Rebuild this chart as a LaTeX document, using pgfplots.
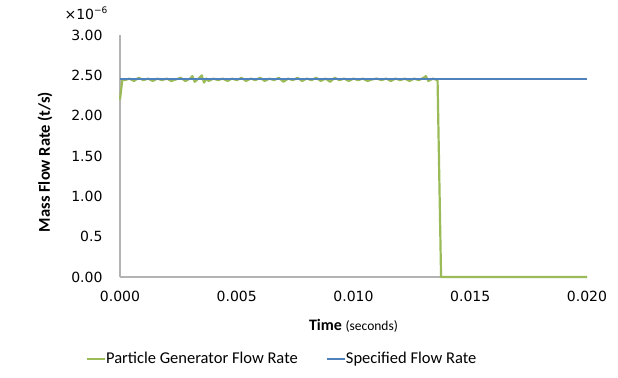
\documentclass[border=0pt]{standalone}
\usepackage{pgfplots}
\pgfplotsset{compat=1.18}
\usepackage{fontspec}
\setmainfont{Carlito}
\newfontfamily\tickfont{DejaVu Sans}
\definecolor{exgreen}{HTML}{9BBB59}
\definecolor{exblue}{HTML}{4F81BD}
\definecolor{axgray}{HTML}{B3B3B3}
\begin{document}
\begin{tikzpicture}
\useasboundingbox (0,0) rectangle (618bp,378bp);
\begin{axis}[
  at={(120bp,101bp)}, anchor=south west,
  scale only axis, width=467bp, height=242bp,
  xmin=0, xmax=0.02, ymin=0, ymax=3,
  scaled x ticks=false, scaled y ticks=false,
  axis lines=left, axis line style={-, draw=axgray, line width=1.2bp},
  major tick length=0pt,
  xtick={0,0.005,0.01,0.015,0.02},
  xticklabels={0.000,0.005,0.010,0.015,0.020},
  ytick={0,0.5,1,1.5,2,2.5,3},
  yticklabels={0.00,0.5,1.00,1.50,2.00,2.50,3.00},
  tick label style={font=\tickfont\fontsize{14bp}{16bp}\selectfont, text=black},
  xticklabel style={yshift=-11bp},
  yticklabel style={xshift=-14bp},
  xlabel={\textbf{Time} {\fontsize{13.5bp}{15bp}\selectfont (seconds)}},
  xlabel style={at={(rel axis cs:0.5,-0.2025)}, anchor=center, font=\fontsize{16bp}{18bp}\selectfont},
  ylabel={\textbf{Mass Flow Rate (t/s)}},
  ylabel style={at={(rel axis cs:-0.1606,0.475)}, anchor=center, rotate=0, font=\fontsize{16.5bp}{18bp}\selectfont},
  clip=false,
  legend columns=2,
  legend style={at={(rel axis cs:0.345,-0.338)}, anchor=center, draw=none, fill=none,
    font=\fontsize{16.5bp}{18bp}\selectfont, inner sep=0pt,
    /tikz/every even column/.append style={column sep=28bp},
    nodes={inner xsep=0pt}},
  legend image code/.code={\draw[#1, line width=2.2bp] (0,0) -- (18bp,0);},
]
\addplot[exgreen, line width=2.2bp, line join=round] coordinates {
(0.0000,2.20) (0.0001,2.45) (0.0002,2.44) (0.0004,2.46) (0.0006,2.43) (0.0008,2.47)
(0.0010,2.44) (0.0012,2.46) (0.0014,2.43) (0.0016,2.46) (0.0018,2.44) (0.0020,2.46)
(0.0022,2.43) (0.0024,2.45) (0.0026,2.47) (0.0028,2.43) (0.0030,2.46) (0.0031,2.49)
(0.0032,2.42) (0.0034,2.47) (0.0035,2.50) (0.0036,2.41) (0.0037,2.46) (0.0038,2.43)
(0.0040,2.46) (0.0042,2.44) (0.0044,2.46) (0.0046,2.43) (0.0048,2.46) (0.0050,2.44)
(0.0052,2.47) (0.0054,2.43) (0.0056,2.46) (0.0058,2.44) (0.0060,2.47) (0.0062,2.43)
(0.0064,2.46) (0.0066,2.44) (0.0068,2.47) (0.0070,2.42) (0.0072,2.46) (0.0074,2.44)
(0.0076,2.47) (0.0078,2.43) (0.0080,2.46) (0.0082,2.44) (0.0084,2.47) (0.0086,2.43)
(0.0088,2.46) (0.0090,2.42) (0.0092,2.47) (0.0094,2.44) (0.0096,2.46) (0.0098,2.43)
(0.0100,2.46) (0.0102,2.44) (0.0104,2.46) (0.0106,2.43) (0.0108,2.45) (0.0110,2.46)
(0.0112,2.44) (0.0114,2.46) (0.0116,2.43) (0.0118,2.46) (0.0120,2.44) (0.0122,2.46)
(0.0124,2.43) (0.0126,2.46) (0.0128,2.44) (0.0130,2.47) (0.0131,2.49) (0.0132,2.43)
(0.0134,2.46) (0.0136,2.44) (0.01375,0.00) (0.0200,0.00)
};
\addlegendentry{Particle Generator Flow Rate}
\addplot[exblue, line width=2.2bp] coordinates {(0,2.45) (0.02,2.45)};
\addlegendentry{Specified Flow Rate}
\node[anchor=center, font=\tickfont\fontsize{14bp}{16bp}\selectfont] at (rel axis cs:-0.0728,1.091)
  {×10\raisebox{0.75ex}{\fontsize{9bp}{10bp}\selectfont −6}};
\end{axis}
\end{tikzpicture}
\end{document}
